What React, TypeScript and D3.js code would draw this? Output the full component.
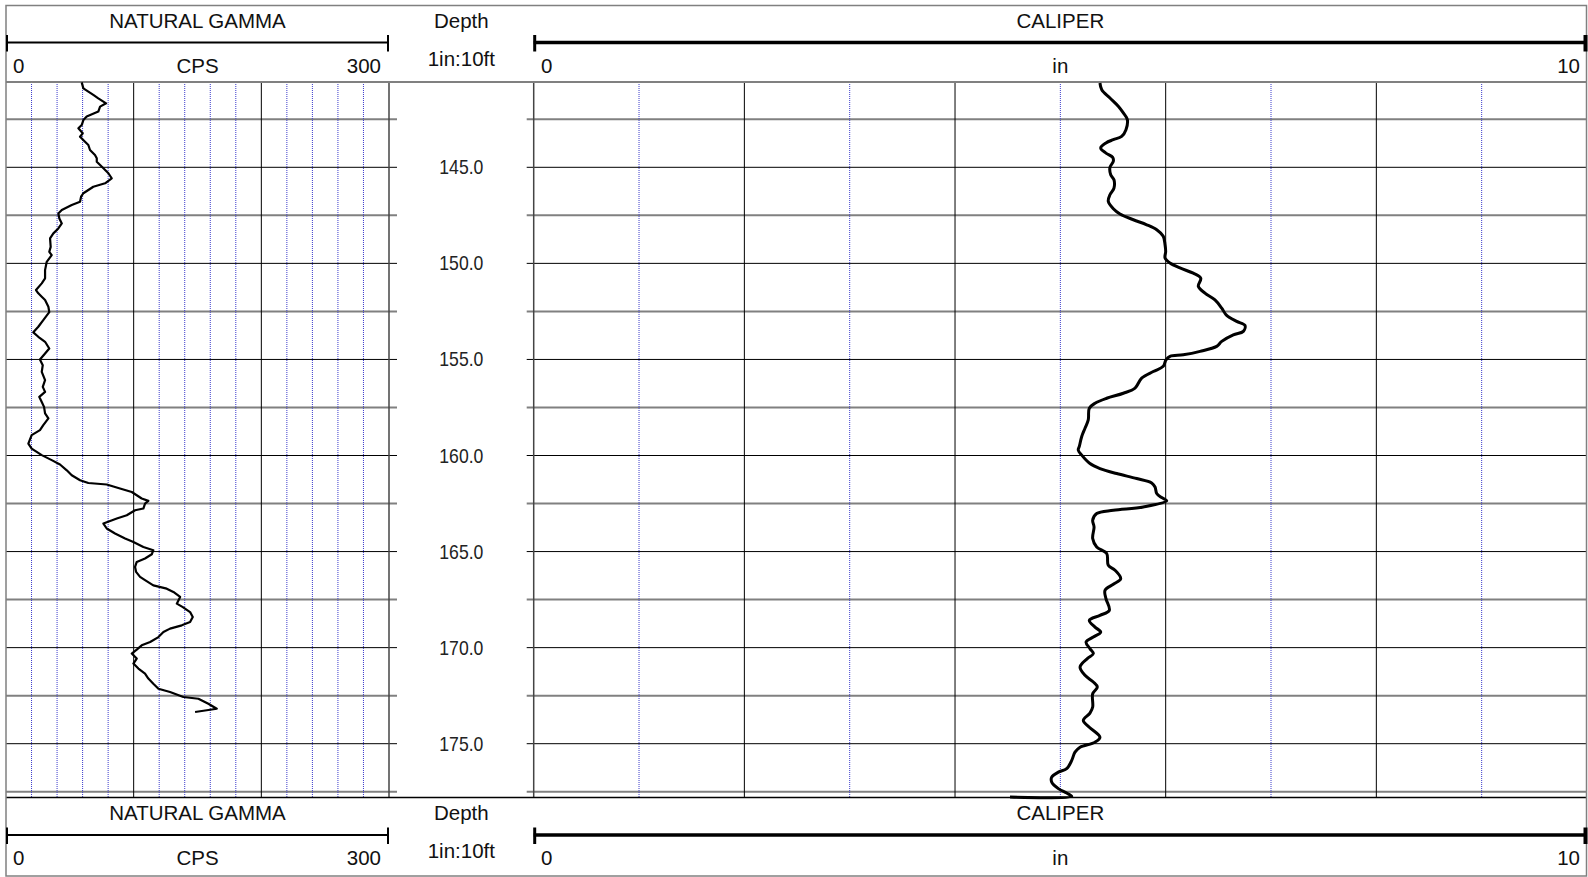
import React from 'react';
import * as d3 from 'd3';

// gamma ray log, depth in ft / counts per second
const gammaDepth = [
  140.58, 140.89, 141.23, 141.41, 141.67, 141.84, 142.1, 142.36, 142.54, 142.8,
  142.97, 143.23, 143.41, 143.67, 143.84, 144.1, 144.36, 144.53, 144.71, 145.05,
  145.31, 145.57, 145.83, 146.01, 146.35, 146.53, 146.79, 146.96, 147.22, 147.4,
  147.66, 147.92, 148.18, 148.44, 148.7, 149.14, 149.4, 149.57, 149.92, 150.35,
  150.78, 151.04, 151.39, 151.56, 151.74, 151.91, 152.26, 152.54, 152.95, 153.3,
  153.59, 153.82, 154.08, 154.43, 154.69, 155.0, 155.3, 155.65, 156.08, 156.43,
  156.69, 156.95, 157.21, 157.47, 157.81, 158.07, 158.42, 158.68, 158.94, 159.38,
  159.64, 159.98, 160.24, 160.47, 160.77, 161.03, 161.29, 161.43, 161.51, 161.72,
  161.9, 162.07, 162.24, 162.36, 162.5, 162.76, 162.85, 163.11, 163.28, 163.54,
  163.8, 164.06, 164.32, 164.5, 164.76, 164.93, 165.14, 165.36, 165.54, 165.8,
  166.06, 166.32, 166.49, 166.76, 166.93, 167.1, 167.36, 167.71, 167.89, 168.15,
  168.41, 168.67, 168.84, 169.01, 169.19, 169.45, 169.71, 169.88, 170.1, 170.31,
  170.57, 170.83, 171.09, 171.35, 171.61, 171.88, 172.14, 172.31, 172.57, 172.66,
  172.92, 173.18, 173.35,
];
const gammaCps = [
  59.3, 60.6, 68.4, 72.3, 78.4, 73.7, 72.3, 63.2, 60.6, 59.3,
  56.7, 60.1, 58.0, 61.9, 64.5, 65.8, 69.7, 71.1, 71.1, 76.3,
  80.2, 82.8, 77.6, 68.4, 60.6, 58.8, 58.0, 51.5, 43.7, 41.0,
  41.8, 43.7, 41.0, 37.1, 34.5, 35.0, 33.9, 35.8, 31.9, 30.6,
  30.6, 28.0, 23.5, 25.3, 28.0, 30.6, 33.2, 33.9, 29.2, 25.3,
  21.4, 25.3, 30.6, 33.9, 30.6, 26.6, 28.8, 28.0, 30.6, 28.8,
  30.6, 26.1, 28.0, 29.8, 30.6, 33.2, 29.2, 26.6, 20.1, 17.5,
  20.1, 28.0, 35.8, 42.3, 47.6, 51.5, 58.0, 64.5, 78.9, 89.3,
  98.5, 102.4, 106.3, 111.5, 108.9, 107.6, 101.1, 94.6, 86.8, 76.3,
  78.9, 85.4, 93.3, 99.8, 107.6, 115.4, 114.2, 108.9, 102.4, 101.1,
  101.9, 105.0, 108.9, 115.4, 125.9, 131.1, 136.4, 133.8, 138.5, 144.2,
  146.3, 144.2, 137.7, 128.5, 123.3, 119.4, 112.9, 106.3, 102.4, 98.5,
  102.4, 99.8, 103.7, 108.9, 111.5, 115.4, 119.4, 128.5, 138.9, 150.7,
  158.5, 165.1, 148.1,
];

// caliper log, depth in ft / inches
const caliperDepth = [
  140.61, 140.96, 141.39, 141.82, 142.17, 142.52, 143.04, 143.39, 143.56, 143.73,
  143.99, 144.26, 144.48, 144.69, 145.0, 145.39, 145.65, 146.08, 146.43, 146.77,
  147.16, 147.43, 147.73, 147.99, 148.25, 148.59, 149.03, 149.38, 149.72, 149.98,
  150.24, 150.51, 150.77, 151.2, 151.55, 151.9, 152.33, 152.71, 153.02, 153.23,
  153.54, 153.72, 154.06, 154.32, 154.58, 154.76, 154.84, 155.02, 155.36, 155.63,
  155.97, 156.49, 156.76, 157.02, 157.28, 157.54, 158.15, 158.58, 159.01, 159.53,
  159.72, 159.98, 160.42, 160.68, 160.94, 161.2, 161.43, 161.64, 161.98, 162.19,
  162.36, 162.68, 162.85, 163.02, 163.37, 163.72, 164.32, 164.76, 165.1, 165.71,
  165.97, 166.41, 166.7, 167.02, 167.45, 168.06, 168.32, 168.58, 168.93, 169.19,
  169.45, 169.71, 170.05, 170.31, 170.57, 171.01, 171.44, 171.79, 172.05, 172.4,
  173.09, 173.41, 173.79, 174.14, 174.66, 174.92, 175.18, 175.44, 175.87, 176.3,
  176.48, 176.74, 177.0, 177.34, 177.57, 177.74, 177.78,
];
const caliperIn = [
  5.376, 5.393, 5.471, 5.55, 5.598, 5.636, 5.623, 5.582, 5.503, 5.433,
  5.383, 5.433, 5.497, 5.503, 5.471, 5.478, 5.509, 5.509, 5.471, 5.455,
  5.503, 5.566, 5.693, 5.82, 5.915, 5.977, 5.994, 6.0, 5.994, 6.041,
  6.136, 6.262, 6.333, 6.31, 6.373, 6.468, 6.532, 6.579, 6.674, 6.753,
  6.737, 6.642, 6.532, 6.484, 6.326, 6.167, 6.041, 6.003, 5.977, 5.882,
  5.772, 5.709, 5.598, 5.44, 5.329, 5.275, 5.265, 5.234, 5.203, 5.18,
  5.17, 5.203, 5.281, 5.376, 5.535, 5.725, 5.867, 5.899, 5.915, 5.962,
  6.01, 5.787, 5.503, 5.345, 5.307, 5.32, 5.307, 5.345, 5.44, 5.455,
  5.519, 5.573, 5.503, 5.424, 5.433, 5.465, 5.376, 5.275, 5.329, 5.383,
  5.313, 5.244, 5.281, 5.313, 5.256, 5.187, 5.234, 5.313, 5.351, 5.307,
  5.307, 5.281, 5.218, 5.275, 5.376, 5.329, 5.187, 5.139, 5.108, 5.06,
  4.981, 4.918, 4.918, 4.981, 5.06, 5.108, 4.522,
];

const depthLabels = [145, 150, 155, 160, 165, 170, 175];
const gridDepths = d3.range(142.5, 178, 2.5);
const gammaMinor = d3.range(20, 300, 20).filter(v => v % 100 !== 0);
const gammaMajor = [100, 200];
const caliperMinor = [1, 3, 5, 7, 9];
const caliperMajor = [2, 4, 6, 8];

const W = 1588;
const H = 877;
const TOP = 82;
const BOTTOM = 797.5;
const FONT = 'Liberation Sans, Arial, sans-serif';

const y = d3.scaleLinear().domain([140.56, 177.8]).range([TOP, BOTTOM]);
const xg = d3.scaleLinear().domain([0, 300]).range([6, 389]);
const xc = d3.scaleLinear().domain([0, 10]).range([533.7, 1587]);

const Header = ({ y0 }: { y0: number }) => {
  const mid = (xg(0) + xg(300)) / 2;
  const cmid = (xc(0) + xc(10)) / 2;
  const dmid = (xg(300) + xc(0)) / 2;
  return (
    <g transform={`translate(0,${y0})`} fontFamily={FONT} fontSize={20.5} fill="#111">
      <text x={mid} y={22} textAnchor="middle">NATURAL GAMMA</text>
      <line x1={xg(0) + 1} x2={xg(300)} y1={37} y2={37} stroke="#000" strokeWidth={2} />
      <line x1={xg(0) + 1} x2={xg(0) + 1} y1={29.5} y2={46} stroke="#000" strokeWidth={2} />
      <line x1={xg(300) - 1} x2={xg(300) - 1} y1={29.5} y2={46} stroke="#000" strokeWidth={2} />
      <text x={13} y={67} textAnchor="start">0</text>
      <text x={mid} y={67} textAnchor="middle">CPS</text>
      <text x={381} y={67} textAnchor="end">300</text>

      <text x={dmid} y={22} textAnchor="middle">Depth</text>
      <text x={dmid} y={60} textAnchor="middle">1in:10ft</text>

      <text x={cmid} y={22} textAnchor="middle">CALIPER</text>
      <line x1={xc(0)} x2={xc(10)} y1={37} y2={37} stroke="#000" strokeWidth={3.5} />
      <line x1={xc(0) + 1} x2={xc(0) + 1} y1={29.5} y2={46} stroke="#000" strokeWidth={3} />
      <line x1={xc(10) - 1.5} x2={xc(10) - 1.5} y1={29.5} y2={46} stroke="#000" strokeWidth={4} />
      <text x={541} y={67} textAnchor="start">0</text>
      <text x={cmid} y={67} textAnchor="middle">in</text>
      <text x={1580} y={67} textAnchor="end">10</text>
    </g>
  );
};

export default function App() {
  const gammaLine = d3.line<number>()
    .x((_, i) => xg(gammaCps[i]))
    .y(d => y(d))(gammaDepth);

  const caliperLine = d3.line<number>()
    .x((_, i) => xc(caliperIn[i]))
    .y(d => y(d))
    .curve(d3.curveCatmullRom.alpha(0.5))(caliperDepth);

  const dmid = (xg(300) + xc(0)) / 2;

  return (
    <div style={{ position: 'absolute', left: 0, top: 0 }}>
      <svg width={W} height={H} style={{ display: 'block', background: '#fff' }}>
        {/* horizontal depth grid */}
        {gridDepths.map(d => {
          const major = d % 5 === 0;
          const stroke = major ? '#000' : '#808080';
          const sw = major ? 1 : 2;
          return (
            <g key={d}>
              <line x1={xg(0)} x2={xg(300) + 8} y1={y(d)} y2={y(d)} stroke={stroke} strokeWidth={sw} />
              <line x1={xc(0) - 7} x2={xc(10)} y1={y(d)} y2={y(d)} stroke={stroke} strokeWidth={sw} />
            </g>
          );
        })}

        {/* vertical grids */}
        {gammaMinor.map(v => (
          <line key={'gm' + v} x1={xg(v)} x2={xg(v)} y1={TOP} y2={BOTTOM}
            stroke="#3a3acc" strokeWidth={1} strokeDasharray="1,1" />
        ))}
        {gammaMajor.map(v => (
          <line key={'gM' + v} x1={xg(v)} x2={xg(v)} y1={TOP} y2={BOTTOM} stroke="#000" strokeWidth={1} />
        ))}
        {caliperMinor.map(v => (
          <line key={'cm' + v} x1={xc(v)} x2={xc(v)} y1={TOP} y2={BOTTOM}
            stroke="#3a3acc" strokeWidth={1} strokeDasharray="1,1" />
        ))}
        {caliperMajor.map(v => (
          <line key={'cM' + v} x1={xc(v)} x2={xc(v)} y1={TOP} y2={BOTTOM} stroke="#000" strokeWidth={1} />
        ))}
        <line x1={xg(300)} x2={xg(300)} y1={TOP} y2={BOTTOM} stroke="#444" strokeWidth={1.5} />
        <line x1={xc(0)} x2={xc(0)} y1={TOP} y2={BOTTOM} stroke="#444" strokeWidth={1.5} />

        {/* header / footer separators */}
        <line x1={6} x2={1587} y1={TOP} y2={TOP} stroke="#808080" strokeWidth={2} />
        <line x1={6} x2={1587} y1={BOTTOM} y2={BOTTOM} stroke="#000" strokeWidth={1.5} />

        {/* outer frame */}
        <rect x={6} y={5.5} width={1580.5} height={870.5} fill="none" stroke="#808080" strokeWidth={1.5} />

        {/* depth labels */}
        {depthLabels.map(d => (
          <text key={d} transform={`translate(${dmid},${y(d) + 7}) scale(0.88,1)`}
            textAnchor="middle" fontFamily={FONT} fontSize={20} fill="#222">
            {d3.format('.1f')(d)}
          </text>
        ))}

        {/* curves */}
        <path d={gammaLine ?? ''} fill="none" stroke="#000" strokeWidth={2.2} strokeLinejoin="round" />
        <path d={caliperLine ?? ''} fill="none" stroke="#000" strokeWidth={3} strokeLinejoin="round" />

        <Header y0={5.5} />
        <Header y0={798} />
      </svg>
    </div>
  );
}
